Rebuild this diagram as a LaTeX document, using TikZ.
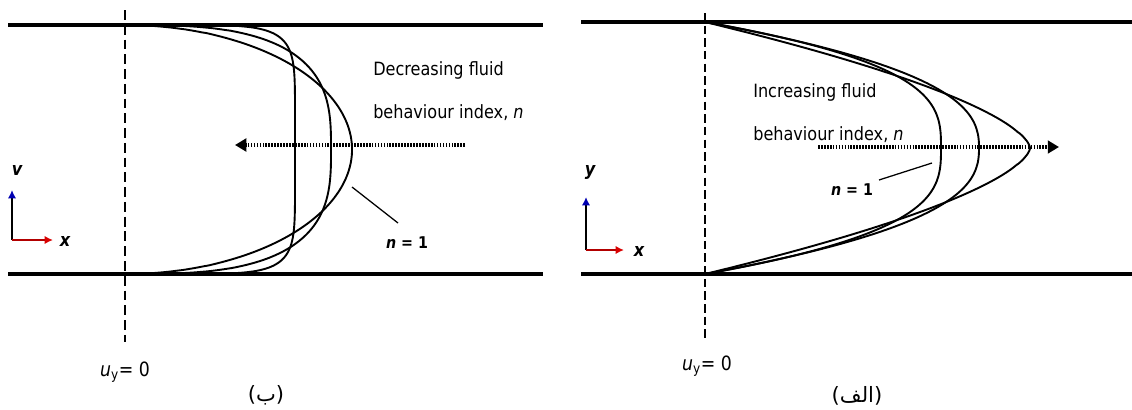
\documentclass[tikz,border=0pt]{standalone}
\usepackage{fontspec}
\setmainfont{DejaVu Sans}[FakeStretch=0.88]
\newfontfamily\arabicfont[Script=Arabic]{DejaVu Sans}
\TeXXeTstate=1
\usetikzlibrary{arrows.meta}

\tikzset{
  wall/.style={line width=2.4pt},
  thickwall/.style={line width=3.1pt},
  profile/.style={line width=1.35pt},
  zeroline/.style={line width=1.6pt, dash pattern=on 7pt off 3.5pt},
  thinzero/.style={line width=0.8pt, dash pattern=on 6pt off 3pt},
  flowarrow/.style={line width=2.6pt, dash pattern=on 1.2pt off 0.9pt,
    -{Triangle[length=8pt,width=9pt]}},
  leader/.style={line width=0.9pt},
  yaxis/.style={line width=1.5pt, -{Latex[length=6pt,width=6pt,color=blue!70!black]}},
  xaxis/.style={line width=1.5pt, red!70!black, -{Latex[length=6pt,width=6pt,color=red!85!black]}},
  lbl/.style={font=\fontsize{13}{30.5}\selectfont, align=left, inner sep=0pt},
  nlbl/.style={font=\fontsize{11.5}{13}\selectfont\bfseries, inner sep=1pt},
  axlbl/.style={font=\fontsize{13}{15}\selectfont\bfseries\itshape, inner sep=1pt},
  ulbl/.style={font=\fontsize{14}{16}\selectfont, inner sep=1pt},
  arlbl/.style={font=\fontsize{15}{17}\selectfont\arabicfont, inner sep=1pt}
}

\begin{document}
\begin{tikzpicture}[x=0.025cm, y=-0.025cm]
    \useasboundingbox (0,0) rectangle (1132,409);

    % left panel (decreasing n)
    \coordinate (TL1) at (8,25);
    \coordinate (TR1) at (543,25);
    \coordinate (BL1) at (8,274);
    \coordinate (BR1) at (543,274);
    \coordinate (Z1a) at (125,10);
    \coordinate (Z1b) at (125,342);
    \coordinate (C1t) at (125,25);
    \coordinate (C1b) at (125,274);

    \draw [wall] (TL1) -- (TR1);
    \draw [wall] (BL1) -- (BR1);
    \draw [zeroline] (Z1a) -- (Z1b);

    \draw [profile] (C1t) -- plot[domain=-0.9999:0.9999, samples=400, smooth]
        ({125+227*(1-abs(\x)^2)^(1/2)}, {149.5+124.5*\x}) -- (C1b);
    \draw [profile] (C1t) -- plot[domain=-0.9999:0.9999, samples=400, smooth]
        ({125+206*(1-abs(\x)^3)^(1/3)}, {149.5+124.5*\x}) -- (C1b);
    \draw [profile] (C1t) -- plot[domain=-0.9999:0.9999, samples=400, smooth]
        ({125+170*(1-abs(\x)^7)^(1/7)}, {149.5+124.5*\x}) -- (C1b);

    \coordinate (F1a) at (465,145);
    \coordinate (F1b) at (235,145);
    \draw [flowarrow] (F1a) -- (F1b);

    \node[lbl, anchor=north west] (dec) at (373,61) {Decreasing fluid\\behaviour index, \textit{n}};

    \coordinate (L1a) at (352,187);
    \coordinate (L1b) at (398,223);
    \draw [leader] (L1a) -- (L1b);
    \node[nlbl] (n1l) at (407,243) {\textit{n} = 1};

    \coordinate (O1) at (12,240);
    \coordinate (Y1) at (12,190);
    \coordinate (X1) at (53,240);
    \draw [yaxis] (O1) -- (Y1);
    \draw [xaxis] (O1) -- (X1);
    \node[axlbl] (v1) at (17,170) {v};
    \node[axlbl] (x1) at (65,241) {x};

    \node[ulbl] (u1) at (125,372) {\textit{u}\textsubscript{y}= 0};
    \node[arlbl] (capb) at (266,395) {\beginR(ب)\endR};

    % right panel (increasing n)
    \coordinate (TL2) at (581,22);
    \coordinate (TR2) at (1132,22);
    \coordinate (BL2) at (581,274);
    \coordinate (BR2) at (1132,274);
    \coordinate (Z2a) at (705,13);
    \coordinate (Z2b) at (705,342);

    \draw [thickwall] (TL2) -- (TR2);
    \draw [thickwall] (BL2) -- (BR2);
    \draw [thinzero] (Z2a) -- (Z2b);

    \draw [profile] plot[domain=-1:1, samples=200, smooth]
        ({705+236*(1-abs(\x)^3)}, {148+126*\x});
    \draw [profile] plot[domain=-1:1, samples=200, smooth]
        ({705+274*(1-abs(\x)^2.5)}, {148+126*\x});
    \draw [profile] plot[domain=-1:1, samples=200, smooth]
        ({705+325*(1-abs(\x)^1.6)}, {148+126*\x});

    \coordinate (F2a) at (818,147);
    \coordinate (F2b) at (1059,147);
    \draw [flowarrow] (F2a) -- (F2b);

    \node[lbl, anchor=north west] (inc) at (753,83) {Increasing fluid\\behaviour index, \textit{n}};

    \coordinate (L2a) at (932,163);
    \coordinate (L2b) at (879,180);
    \draw [leader] (L2a) -- (L2b);
    \node[nlbl] (n1r) at (852,190) {\textit{n} = 1};

    \coordinate (O2) at (586,250);
    \coordinate (Y2) at (586,197);
    \coordinate (X2) at (624,250);
    \draw [yaxis] (O2) -- (Y2);
    \draw [xaxis] (O2) -- (X2);
    \node[axlbl] (y2) at (590,172) {y};
    \node[axlbl] (x2) at (639,251) {x};

    \node[ulbl] (u2) at (707,366) {\textit{u}\textsubscript{y}= 0};
    \node[arlbl] (capa) at (857,396) {\beginR(الف)\endR};
\end{tikzpicture}
\end{document}
